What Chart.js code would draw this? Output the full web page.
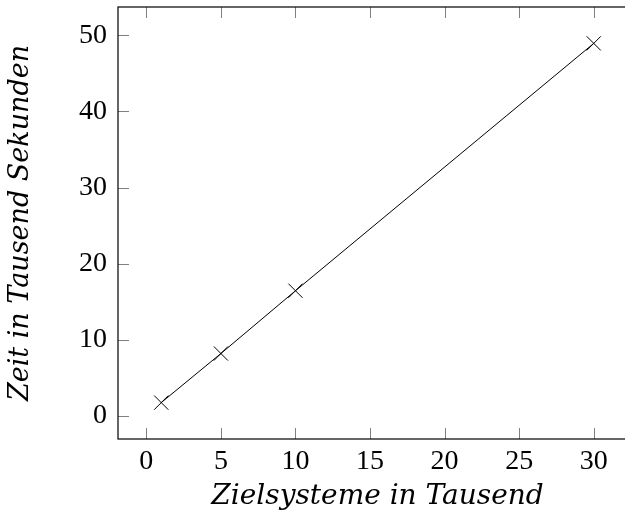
<!DOCTYPE html>
<html>
  <head>
    <script src="https://cdn.jsdelivr.net/npm/chart.js@4/dist/chart.umd.min.js"></script>
    <style>
      html, body { margin: 0; padding: 0; background: #fff; overflow: hidden; }
      #wrap { width: 625px; height: 518px; overflow: hidden; }
      #canvas { display: block; margin-top: -4px; }
    </style>
  </head>

  <body>
    <div id="wrap">
      <canvas id="canvas" width="648" height="522"></canvas>
    </div>
    <script>
      const systems = [1, 5, 10, 30];
      const times = [1.75, 8.2, 16.45, 48.95];
      const xTicks = [0, 5, 10, 15, 20, 25, 30];
      const yTicks = [0, 10, 20, 30, 40, 50];

      const serif = "'Liberation Serif', 'DejaVu Serif', serif";
      const titleFont = "'DejaVu Serif', 'Liberation Serif', serif";

      // pgfplots-like frame with inward ticks on all four sides
      const frame = {
        id: 'frame',
        afterDatasetsDraw(chart) {
          const { ctx, chartArea: a, scales } = chart;
          const len = 11;
          ctx.save();
          ctx.strokeStyle = '#808080';
          ctx.lineWidth = 1;
          ctx.beginPath();
          scales.x.ticks.forEach((t) => {
            const px = Math.round(scales.x.getPixelForValue(t.value)) + 0.5;
            ctx.moveTo(px, a.bottom);
            ctx.lineTo(px, a.bottom - len);
            ctx.moveTo(px, a.top);
            ctx.lineTo(px, a.top + len);
          });
          scales.y.ticks.forEach((t) => {
            const py = Math.round(scales.y.getPixelForValue(t.value)) + 0.5;
            ctx.moveTo(a.left, py);
            ctx.lineTo(a.left + len, py);
            ctx.moveTo(a.right, py);
            ctx.lineTo(a.right - len, py);
          });
          ctx.stroke();
          ctx.strokeStyle = '#000';
          ctx.lineWidth = 1.2;
          ctx.strokeRect(a.left, a.top, a.right - a.left, a.bottom - a.top);
          ctx.restore();
        },
      };

      new Chart(document.getElementById('canvas').getContext('2d'), {
        type: 'scatter',
        data: {
          datasets: [
            {
              data: systems.map((x, i) => ({ x, y: times[i] })),
              showLine: true,
              borderColor: '#000',
              borderWidth: 1,
              pointStyle: 'crossRot',
              pointRadius: 10,
              pointBorderColor: '#000',
              pointBorderWidth: 1,
              pointBackgroundColor: '#000',
            },
          ],
        },
        options: {
          responsive: false,
          animation: false,
          events: [],
          layout: { padding: { top: 8, left: 0, right: 0, bottom: 0 } },
          plugins: { legend: { display: false }, tooltip: { enabled: false } },
          scales: {
            x: {
              type: 'linear',
              min: -1.9,
              max: 32.9,
              afterBuildTicks: (s) => { s.ticks = xTicks.map((v) => ({ value: v })); },
              afterFit: (s) => { s.height = 79; },
              grid: { display: false, drawTicks: false },
              border: { display: false },
              ticks: { color: '#000', font: { family: serif, size: 28 }, padding: 6 },
              title: {
                display: true,
                text: 'Zielsysteme in Tausend',
                color: '#000',
                font: { family: titleFont, size: 28, style: 'italic' },
                padding: { top: 0, bottom: 4 },
              },
            },
            y: {
              type: 'linear',
              min: -3.03,
              max: 53.73,
              afterBuildTicks: (s) => { s.ticks = yTicks.map((v) => ({ value: v })); },
              afterFit: (s) => { s.width = 118; s.paddingTop = 0; s.paddingBottom = 0; },
              grid: { display: false, drawTicks: false },
              border: { display: false },
              ticks: { color: '#000', font: { family: serif, size: 28 }, padding: 11 },
              title: {
                display: true,
                text: 'Zeit in Tausend Sekunden',
                color: '#000',
                font: { family: titleFont, size: 27, style: 'italic' },
                padding: { top: 5, bottom: 0 },
              },
            },
          },
        },
        plugins: [frame],
      });
    </script>
  </body>
</html>
